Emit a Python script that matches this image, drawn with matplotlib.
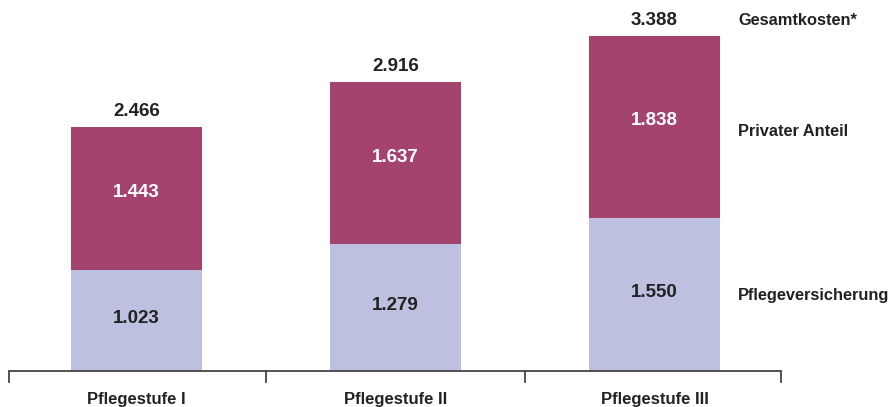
import matplotlib
matplotlib.use("Agg")
import matplotlib.pyplot as plt
from matplotlib import font_manager

categories = ["Pflegestufe I", "Pflegestufe II", "Pflegestufe III"]
pflegeversicherung = [1023, 1279, 1550]
privater_anteil = [1443, 1637, 1838]
gesamtkosten = [2466, 2916, 3388]
series_labels = ["Gesamtkosten*", "Privater Anteil", "Pflegeversicherung"]

def fmt(v):
    return f"{v/1000:.3f}"

names = {f.name for f in font_manager.fontManager.ttflist}
narrow = "Liberation Sans Narrow" if "Liberation Sans Narrow" in names else "Liberation Sans"
plt.rcParams["font.family"] = ["Liberation Sans", "DejaVu Sans"]

pink = "#A3436E"
lav = "#BEC0DF"
dark = "#222222"

fig = plt.figure(figsize=(8.96, 4.07), dpi=100)
ax = fig.add_axes([0, 0, 1, 1])
ax.set_xlim(-0.527, 2.932)
ax.set_ylim(-365, 3748)
ax.axis("off")

x = list(range(len(categories)))
w = 0.506
ax.bar(x, pflegeversicherung, width=w, color=lav, linewidth=0)
ax.bar(x, privater_anteil, width=w, bottom=pflegeversicherung, color=pink, linewidth=0)

vfs = 13.5
for i in x:
    pv, pa, tot = pflegeversicherung[i], privater_anteil[i], gesamtkosten[i]
    ax.text(i, pv / 2 + 20, fmt(pv), ha="center", va="center", fontsize=vfs,
            fontweight="bold", color=dark)
    ax.text(i, pv + pa / 2 + 60, fmt(pa), ha="center", va="center", fontsize=vfs,
            fontweight="bold", color="white")
    ax.text(i, tot + 155, fmt(tot), ha="center", va="center", fontsize=vfs,
            fontweight="bold", color=dark)
    ax.text(i, -290, categories[i], ha="center", va="center", fontsize=12,
            fontweight="bold", color=dark, family=narrow)

# axis line with category separators
ax.plot([-0.492, 2.488], [0, 0], color="#444444", lw=1.3, solid_capstyle="butt")
for b in [-0.492, 0.5, 1.5, 2.488]:
    ax.plot([b, b], [0, -112], color="#444444", lw=1.3)

# right-hand labels
xr = 2.322
rfs = 11.8
ax.text(xr, gesamtkosten[-1] + 155, series_labels[0], ha="left", va="center",
        fontsize=rfs, fontweight="bold", color=dark)
ax.text(xr, 2424, series_labels[1], ha="left", va="center",
        fontsize=rfs, fontweight="bold", color=dark)
ax.text(xr, 757, series_labels[2], ha="left", va="center",
        fontsize=rfs, fontweight="bold", color=dark)

fig.savefig("out.png", dpi=100)
